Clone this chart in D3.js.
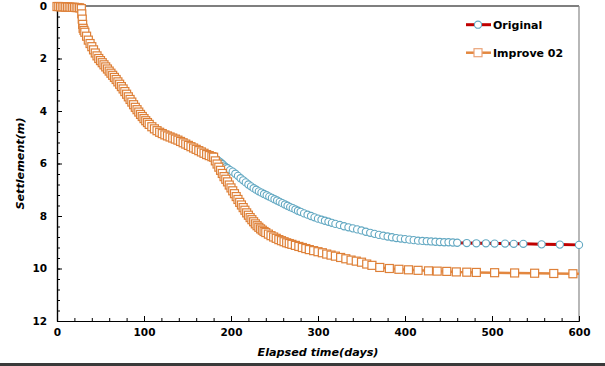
<!DOCTYPE html>
<html><head><meta charset="utf-8">
<script src="https://cdn.jsdelivr.net/npm/d3@7/dist/d3.min.js"></script>
<style>
html,body{margin:0;padding:0;background:#fff;}
svg{display:block;}
text{font-family:"DejaVu Sans",sans-serif;font-weight:bold;fill:#000;}
</style></head>
<body>
<script>
// ---------- data ----------
const seriesNames = ["Original", "Improve 02"];
const xTickValues = [0, 100, 200, 300, 400, 500, 600];
const yTickValues = [0, 2, 4, 6, 8, 10, 12];

// shared first stage (both series identical up to ~180 days)
const stageDays = [0,2,4,6,8,10,12,14,16,18,20,22,24,26,28,28.5,29,29.5,30,31,32,34,36,38,40,42,44,46,48,50,52,54,56,58,60,62,64,66,68,70,72,74,76,78,80,82,84,86,88,90,92,94,96,98,100,102,104,106,109,112,115,118,121,124,127,130,133,136,139,142,145,148,151,154,157,160,163,166,169,172,175,178,180];
const stageSettle = [0.02,0.02,0.03,0.03,0.03,0.04,0.04,0.04,0.05,0.05,0.05,0.06,0.06,0.07,0.10,0.30,0.50,0.70,0.85,0.93,1.0,1.15,1.30,1.43,1.55,1.67,1.79,1.90,2.0,2.08,2.16,2.24,2.32,2.40,2.48,2.56,2.64,2.72,2.80,2.89,2.98,3.07,3.16,3.26,3.36,3.46,3.56,3.66,3.76,3.86,3.95,4.04,4.13,4.21,4.29,4.37,4.44,4.51,4.60,4.68,4.75,4.81,4.86,4.91,4.95,4.99,5.03,5.07,5.11,5.16,5.21,5.26,5.31,5.36,5.41,5.46,5.51,5.56,5.61,5.66,5.70,5.74,5.76];

// Original, after 180 days
const originalDays = [182,184,186,188,190,192,194,196,199,202,205,208,211,214,217,220,223,226,229,232,235,238,241,244,247,250,253,256,259,262,265,268,271,274,277,280,284,288,292,296,300,304,308,312,316,320,325,330,335,340,345,350,355,360,365,370,375,380,385,390,395,400,405,410,415,420,425,430,435,440,445,450,455,460,471,482,493,503,515,525,536,557,578,600];
const originalSettle = [5.82,5.86,5.91,5.96,6.02,6.08,6.14,6.18,6.25,6.31,6.39,6.47,6.56,6.64,6.72,6.80,6.87,6.94,7.00,7.06,7.11,7.16,7.21,7.26,7.31,7.36,7.41,7.46,7.51,7.56,7.61,7.66,7.70,7.75,7.80,7.84,7.90,7.95,8.00,8.05,8.10,8.14,8.18,8.22,8.26,8.30,8.34,8.39,8.43,8.47,8.51,8.55,8.60,8.64,8.68,8.72,8.75,8.78,8.81,8.84,8.86,8.88,8.90,8.92,8.94,8.95,8.96,8.97,8.98,8.99,9.00,9.00,9.01,9.02,9.03,9.04,9.04,9.05,9.05,9.06,9.06,9.08,9.09,9.10];

// Improve 02, after 180 days
const improveDays = [182,184,186,188,190,192,194,196,198,200,202,204,206,208,210,212,214,216,218,220,222,224,226,228,230,232,234,236,238,240,243,246,249,252,255,258,261,264,267,270,274,278,282,286,290,295,300,305,310,315,320,326,332,338,344,350,356,362,371,382,393,404,415,427,437,448,459,471,482,503,526,549,571,593,600];
const improveSettle = [5.90,6.02,6.14,6.26,6.38,6.50,6.60,6.70,6.82,6.93,7.04,7.15,7.26,7.37,7.48,7.58,7.68,7.78,7.88,7.97,8.06,8.14,8.22,8.30,8.37,8.43,8.49,8.54,8.59,8.63,8.69,8.75,8.80,8.85,8.90,8.94,8.98,9.02,9.05,9.08,9.12,9.16,9.20,9.24,9.28,9.32,9.36,9.40,9.45,9.49,9.53,9.58,9.63,9.68,9.72,9.76,9.83,9.88,9.96,10.0,10.03,10.05,10.07,10.09,10.10,10.11,10.13,10.14,10.15,10.16,10.17,10.18,10.19,10.20,10.20];

// ---------- chart ----------
const W = 605, H = 366;
const svg = d3.select("body").append("svg").attr("width", W).attr("height", H);

const x = d3.scaleLinear().domain([0, 600]).range([57, 579]);
const y = d3.scaleLinear().domain([0, 12]).range([6, 321]);

const original = stageDays.map((d, i) => ({day: d, s: stageSettle[i]}))
  .concat(originalDays.map((d, i) => ({day: d, s: originalSettle[i]})));
const improve = stageDays.map((d, i) => ({day: d, s: stageSettle[i]}))
  .concat(improveDays.map((d, i) => ({day: d, s: improveSettle[i]})));

// frame: top and right
svg.append("line").attr("x1", x(0)).attr("x2", x(600)).attr("y1", y(0)).attr("y2", y(0))
  .attr("stroke", "#000").attr("stroke-width", 1.2);
svg.append("line").attr("x1", x(600)).attr("x2", x(600)).attr("y1", y(0)).attr("y2", y(12))
  .attr("stroke", "#888").attr("stroke-width", 1.2);

// axes
const xMajor = svg.append("g").attr("transform", `translate(0,${y(12)})`)
  .call(d3.axisBottom(x).tickValues(xTickValues).tickSize(-5).tickSizeOuter(0).tickPadding(8));
const xMinor = svg.append("g").attr("transform", `translate(0,${y(12)})`)
  .call(d3.axisBottom(x).tickValues(d3.range(0, 601, 20)).tickSize(-3).tickSizeOuter(0).tickFormat(""));
const yMajor = svg.append("g").attr("transform", `translate(${x(0)},0)`)
  .call(d3.axisLeft(y).tickValues(yTickValues).tickSize(-5).tickSizeOuter(0).tickPadding(10));
const yMinor = svg.append("g").attr("transform", `translate(${x(0)},0)`)
  .call(d3.axisLeft(y).tickValues(d3.range(0, 12.01, 0.4)).tickSize(-3).tickSizeOuter(0).tickFormat(""));
[xMajor, xMinor, yMajor, yMinor].forEach(g => {
  g.selectAll("path.domain").attr("stroke", "#000").attr("stroke-width", 1.2);
  g.selectAll(".tick line").attr("stroke", "#000");
  g.selectAll("text").attr("font-family", "DejaVu Sans").attr("font-weight", "bold")
    .attr("font-size", 10.5).attr("fill", "#000");
});

// axis titles
svg.append("text").attr("x", (x(0) + x(600)) / 2).attr("y", 356).attr("text-anchor", "middle")
  .attr("font-size", 11.2).attr("font-style", "italic").text("Elapsed time(days)");
svg.append("text").attr("transform", `translate(24,${(y(0) + y(12)) / 2}) rotate(-90)`)
  .attr("text-anchor", "middle").attr("font-size", 11.2).attr("font-style", "italic").text("Settlement(m)");

// bottom rule
svg.append("rect").attr("x", 0).attr("y", 363).attr("width", W).attr("height", 3).attr("fill", "#3a3a3a");

const line = d3.line().x(d => x(d.day)).y(d => y(d.s));
const blueStroke = "#62a8c2", redLine = "#c00000";
const orStroke = "#de8038", orLine = "#e3873f";
const sq = 8, r = 3.6;

// Original
svg.append("path").datum(original).attr("d", line).attr("fill", "none")
  .attr("stroke", redLine).attr("stroke-width", 3);
svg.append("g").selectAll("circle").data(original).join("circle")
  .attr("cx", d => x(d.day)).attr("cy", d => y(d.s)).attr("r", r)
  .attr("fill", "#fff").attr("stroke", blueStroke).attr("stroke-width", 1.1);

// Improve 02
svg.append("path").datum(improve).attr("d", line).attr("fill", "none")
  .attr("stroke", orLine).attr("stroke-width", 2.5);
svg.append("g").selectAll("rect").data(improve.filter(d => d.day < 600)).join("rect")
  .attr("x", d => x(d.day) - sq / 2).attr("y", d => y(d.s) - sq / 2)
  .attr("width", sq).attr("height", sq)
  .attr("fill", "#fff").attr("stroke", orStroke).attr("stroke-width", 1.2);

// legend
const lg = svg.append("g");
const legendRows = [
  {name: seriesNames[0], ly: 24.7, lc: redLine, mk: "circle"},
  {name: seriesNames[1], ly: 52.7, lc: orLine, mk: "rect"}
];
legendRows.forEach(rw => {
  lg.append("line").attr("x1", 466).attr("x2", 491).attr("y1", rw.ly).attr("y2", rw.ly)
    .attr("stroke", rw.lc).attr("stroke-width", rw.mk === "circle" ? 3 : 2.5);
  if (rw.mk === "circle") {
    lg.append("circle").attr("cx", 478).attr("cy", rw.ly).attr("r", r)
      .attr("fill", "#fff").attr("stroke", blueStroke).attr("stroke-width", 1.1);
  } else {
    lg.append("rect").attr("x", 478 - sq / 2).attr("y", rw.ly - sq / 2).attr("width", sq).attr("height", sq)
      .attr("fill", "#fff").attr("stroke", "#eba479").attr("stroke-width", 1.2);
  }
  lg.append("text").attr("x", 493).attr("y", rw.ly + 4).attr("font-size", 11).text(rw.name);
});
</script>
</body></html>
